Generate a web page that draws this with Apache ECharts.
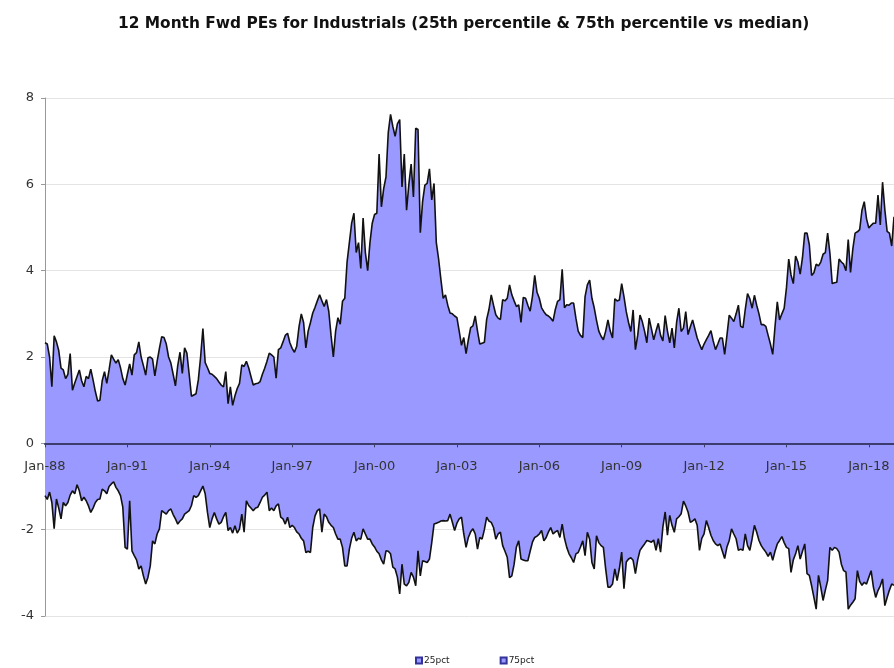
<!DOCTYPE html>
<html>
<head>
    <meta charset="utf-8">
    <title>12 Month Fwd PEs for Industrials</title>
    <script src="https://cdn.jsdelivr.net/npm/echarts@6/dist/echarts.min.js"></script>
    <style>
        html, body { margin: 0; padding: 0; background: #fff; }
    </style>
</head>
<body>
<div id="main" style="width: 894px;height:668px;"></div>
<script type="text/javascript">
    // x axis: monthly, Jan-88 .. Dec-18
    var startYear = 1988;
    var endYear = 2018;
    var monthNames = ['Jan','Feb','Mar','Apr','May','Jun','Jul','Aug','Sep','Oct','Nov','Dec'];
    var months = [];
    for (var y = startYear; y <= endYear; y++) {
        for (var k = 0; k < 12; k++) {
            months.push(monthNames[k] + '-' + String(y).slice(2));
        }
    }

    // 75th percentile vs median (one row per year)
    var pct75 = [
        2.33, 2.30, 2.00, 1.31, 2.49, 2.35, 2.15, 1.74, 1.70, 1.50, 1.60, 2.08,
        1.23, 1.40, 1.55, 1.70, 1.45, 1.31, 1.55, 1.50, 1.72, 1.47, 1.20, 0.98,
        1.00, 1.45, 1.66, 1.39, 1.70, 2.05, 1.95, 1.86, 1.94, 1.75, 1.50, 1.35,
        1.60, 1.84, 1.58, 2.05, 2.10, 2.35, 2.00, 1.80, 1.58, 1.98, 2.00, 1.95,
        1.56, 1.90, 2.20, 2.47, 2.45, 2.30, 2.00, 1.86, 1.60, 1.33, 1.80, 2.11,
        1.62, 2.21, 2.09, 1.60, 1.09, 1.12, 1.15, 1.47, 2.00, 2.66, 1.87, 1.75,
        1.62, 1.60, 1.55, 1.50, 1.42, 1.35, 1.31, 1.66, 0.92, 1.31, 0.88, 1.10,
        1.27, 1.39, 1.82, 1.78, 1.90, 1.75, 1.55, 1.35, 1.38, 1.39, 1.43, 1.60,
        1.74, 1.90, 2.09, 2.05, 2.00, 1.51, 2.17, 2.21, 2.35, 2.50, 2.55, 2.33,
        2.20, 2.11, 2.25, 2.70, 3.00, 2.80, 2.21, 2.60, 2.80, 3.02, 3.15, 3.30,
        3.44, 3.30, 3.17, 3.33, 3.06, 2.50, 2.00, 2.60, 2.91, 2.76, 3.29, 3.36,
        4.20, 4.65, 5.10, 5.33, 4.42, 4.65, 4.05, 5.22, 4.42, 4.00, 4.65, 5.10,
        5.30, 5.33, 6.70, 5.48, 5.90, 6.17, 7.20, 7.62, 7.34, 7.11, 7.40, 7.50,
        5.94, 6.70, 5.40, 6.00, 6.47, 5.71, 7.30, 7.27, 4.88, 5.60, 5.98, 6.02,
        6.36, 5.64, 6.02, 4.65, 4.27, 3.80, 3.36, 3.44, 3.20, 3.02, 3.00, 2.95,
        2.91, 2.60, 2.27, 2.45, 2.08, 2.40, 2.68, 2.72, 2.95, 2.60, 2.30, 2.32,
        2.34, 2.87, 3.10, 3.44, 3.20, 2.98, 2.90, 2.87, 3.33, 3.30, 3.36, 3.67,
        3.44, 3.30, 3.17, 3.21, 2.80, 3.38, 3.36, 3.20, 3.06, 3.40, 3.89, 3.50,
        3.36, 3.14, 3.05, 2.98, 2.95, 2.90, 2.83, 3.10, 3.29, 3.33, 4.03, 3.14,
        3.21, 3.20, 3.25, 3.25, 2.90, 2.60, 2.50, 2.45, 3.40, 3.67, 3.78, 3.36,
        3.14, 2.85, 2.60, 2.48, 2.40, 2.60, 2.86, 2.60, 2.44, 3.35, 3.30, 3.32,
        3.70, 3.40, 3.05, 2.80, 2.59, 3.09, 2.17, 2.50, 2.97, 2.82, 2.60, 2.33,
        2.90, 2.65, 2.40, 2.60, 2.78, 2.50, 2.37, 2.96, 2.60, 2.33, 2.67, 2.21,
        2.80, 3.13, 2.59, 2.67, 3.05, 2.52, 2.70, 2.86, 2.65, 2.44, 2.30, 2.17,
        2.30, 2.40, 2.50, 2.61, 2.37, 2.17, 2.30, 2.44, 2.44, 2.06, 2.50, 2.97,
        2.90, 2.82, 3.00, 3.20, 2.71, 2.68, 3.10, 3.47, 3.35, 3.13, 3.43, 3.20,
        3.00, 2.75, 2.75, 2.71, 2.50, 2.30, 2.06, 2.70, 3.28, 2.86, 3.00, 3.13,
        3.60, 4.27, 3.90, 3.70, 4.34, 4.20, 3.92, 4.30, 4.87, 4.87, 4.60, 3.89,
        3.95, 4.15, 4.11, 4.20, 4.38, 4.42, 4.87, 4.40, 3.70, 3.72, 3.73, 4.27,
        4.20, 4.15, 4.00, 4.72, 3.96, 4.50, 4.87, 4.90, 4.95, 5.40, 5.60, 5.20,
        4.99, 5.05, 5.10, 5.10, 5.75, 5.06, 6.05, 5.41, 4.91, 4.87, 4.57, 5.25
    ];

    // 25th percentile vs median (one row per year)
    var pct25 = [
        -1.21, -1.30, -1.13, -1.37, -1.98, -1.29, -1.50, -1.75, -1.37, -1.45, -1.37, -1.20,
        -1.10, -1.17, -0.96, -1.10, -1.33, -1.25, -1.33, -1.45, -1.60, -1.50, -1.37, -1.30,
        -1.29, -1.06, -1.10, -1.17, -1.00, -0.94, -0.89, -1.02, -1.10, -1.21, -1.48, -2.41,
        -2.45, -1.33, -2.49, -2.60, -2.70, -2.91, -2.84, -3.07, -3.26, -3.10, -2.84, -2.26,
        -2.33, -2.10, -1.98, -1.56, -1.60, -1.64, -1.56, -1.52, -1.65, -1.75, -1.87, -1.80,
        -1.75, -1.64, -1.60, -1.56, -1.44, -1.21, -1.25, -1.21, -1.10, -0.99, -1.17, -1.60,
        -1.95, -1.75, -1.60, -1.75, -1.87, -1.83, -1.70, -1.60, -2.02, -1.95, -2.08, -1.91,
        -2.08, -1.98, -1.64, -2.06, -1.33, -1.44, -1.50, -1.56, -1.50, -1.48, -1.37, -1.25,
        -1.20, -1.13, -1.56, -1.50, -1.56, -1.45, -1.40, -1.71, -1.75, -1.87, -1.71, -1.95,
        -1.90, -1.95, -2.05, -2.10, -2.20, -2.26, -2.53, -2.50, -2.53, -1.95, -1.68, -1.56,
        -1.52, -2.06, -1.64, -1.70, -1.83, -1.90, -1.95, -2.10, -2.22, -2.22, -2.41, -2.84,
        -2.84, -2.45, -2.20, -2.06, -2.26, -2.20, -2.22, -1.98, -2.10, -2.22, -2.22, -2.33,
        -2.40, -2.50, -2.56, -2.70, -2.80, -2.49, -2.50, -2.56, -2.87, -2.91, -3.10, -3.49,
        -2.80, -3.26, -3.30, -3.22, -2.99, -3.10, -3.30, -2.49, -3.07, -2.72, -2.74, -2.76,
        -2.68, -2.30, -1.87, -1.85, -1.83, -1.80, -1.79, -1.80, -1.79, -1.64, -1.83, -2.02,
        -1.85, -1.75, -1.71, -2.10, -2.41, -2.18, -2.05, -1.98, -2.10, -2.45, -2.18, -2.22,
        -2.00, -1.71, -1.80, -1.83, -1.95, -2.22, -2.10, -2.06, -2.37, -2.50, -2.64, -3.11,
        -3.07, -2.80, -2.40, -2.26, -2.68, -2.70, -2.72, -2.72, -2.50, -2.29, -2.18, -2.15,
        -2.10, -2.02, -2.26, -2.18, -2.05, -1.95, -2.10, -2.05, -2.02, -2.18, -1.87, -2.20,
        -2.41, -2.56, -2.65, -2.76, -2.56, -2.53, -2.40, -2.26, -2.60, -2.06, -2.22, -2.76,
        -2.91, -2.14, -2.30, -2.37, -2.41, -2.91, -3.33, -3.33, -3.26, -2.91, -3.18, -2.90,
        -2.52, -3.37, -2.75, -2.68, -2.65, -2.71, -3.02, -2.70, -2.48, -2.40, -2.33, -2.25,
        -2.27, -2.29, -2.24, -2.48, -2.21, -2.52, -1.94, -1.59, -2.13, -1.67, -1.90, -2.06,
        -1.75, -1.70, -1.63, -1.34, -1.45, -1.59, -1.83, -1.80, -1.75, -1.90, -2.48, -2.20,
        -2.10, -1.79, -1.95, -2.13, -2.25, -2.33, -2.37, -2.33, -2.50, -2.67, -2.40, -2.25,
        -1.98, -2.10, -2.21, -2.48, -2.45, -2.48, -2.10, -2.37, -2.48, -2.21, -1.90, -2.06,
        -2.25, -2.37, -2.45, -2.52, -2.62, -2.52, -2.71, -2.50, -2.33, -2.25, -2.16, -2.30,
        -2.41, -2.44, -2.99, -2.70, -2.56, -2.37, -2.68, -2.50, -2.33, -3.02, -3.06, -3.30,
        -3.57, -3.84, -3.06, -3.33, -3.64, -3.40, -3.18, -2.41, -2.48, -2.41, -2.44, -2.52,
        -2.80, -2.95, -2.98, -3.84, -3.75, -3.68, -3.60, -2.95, -3.20, -3.29, -3.22, -3.26,
        -3.10, -2.95, -3.33, -3.57, -3.41, -3.30, -3.14, -3.76, -3.57, -3.40, -3.26, -3.29
    ];

    var seriesNames = ['25pct', '75pct'];
    var fillColor = '#9999ff';
    var yMin = -4, yMax = 8;

    var gridTop = 98, gridBottom = 52;
    var plotHeight = 668 - gridTop - gridBottom;
    // move the category axis (line, ticks, labels) up to the zero line
    var zeroOffset = -plotHeight * (0 - yMin) / (yMax - yMin);

    var myChart = echarts.init(document.getElementById('main'));

    var option = {
        animation: false,
        backgroundColor: '#fff',
        title: {
            text: '12 Month Fwd PEs for Industrials (25th percentile & 75th percentile vs median)',
            left: 113,
            top: 11,
            textStyle: {
                fontFamily: 'DejaVu Sans',
                fontSize: 15.4,
                fontWeight: 'bold',
                color: '#111'
            }
        },
        legend: {
            data: seriesNames,
            left: 410,
            top: 651,
            itemWidth: 6,
            itemHeight: 6,
            itemGap: 50,
            icon: 'rect',
            textStyle: {
                fontFamily: 'DejaVu Sans',
                fontSize: 9,
                color: '#222',
                padding: [0, 0, 0, -3]
            }
        },
        grid: {
            left: 45,
            right: 0,
            top: gridTop,
            bottom: gridBottom
        },
        xAxis: {
            type: 'category',
            data: months,
            boundaryGap: false,
            z: 5,
            offset: zeroOffset,
            axisLine: {
                onZero: false,
                lineStyle: { color: '#3c3c6e', width: 2 }
            },
            axisTick: {
                interval: function (index) { return index % 36 === 0; },
                length: 4,
                lineStyle: { color: '#3c3c6e' }
            },
            axisLabel: {
                interval: function (index) { return index % 36 === 0; },
                margin: 17,
                fontFamily: 'DejaVu Sans',
                fontSize: 13,
                color: '#333'
            },
            splitLine: { show: false }
        },
        yAxis: {
            type: 'value',
            min: yMin,
            max: yMax,
            interval: 2,
            axisLine: {
                show: true,
                lineStyle: { color: '#999', width: 1 }
            },
            axisTick: {
                show: true,
                length: 4,
                lineStyle: { color: '#999' }
            },
            axisLabel: {
                margin: 11,
                fontFamily: 'DejaVu Sans',
                fontSize: 13,
                color: '#333'
            },
            splitLine: {
                lineStyle: { color: '#e4e4e4', width: 1 }
            }
        },
        series: [
            {
                name: seriesNames[0],
                type: 'line',
                data: pct25,
                symbol: 'none',
                lineStyle: { color: '#111', width: 1.6 },
                itemStyle: { color: fillColor, borderColor: '#333399', borderWidth: 1 },
                areaStyle: { color: fillColor, opacity: 1 }
            },
            {
                name: seriesNames[1],
                type: 'line',
                data: pct75,
                symbol: 'none',
                lineStyle: { color: '#111', width: 1.6 },
                itemStyle: { color: fillColor, borderColor: '#333399', borderWidth: 1 },
                areaStyle: { color: fillColor, opacity: 1 }
            }
        ]
    };

    myChart.setOption(option);
</script>
</body>
</html>
